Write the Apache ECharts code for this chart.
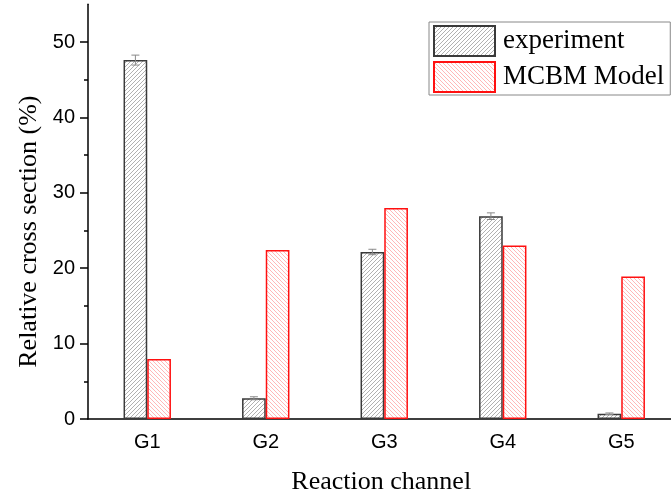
<!DOCTYPE html>
<html>
<head>
<meta charset="utf-8">
<script src="https://cdn.jsdelivr.net/npm/echarts@6/dist/echarts.min.js"></script>
<style>
html,body{margin:0;padding:0;background:#fff;}
#chart{width:671px;height:497px;}
</style>
</head>
<body>
<div id="chart"></div>
<script>
// ---- data ----
var categories = ['G1', 'G2', 'G3', 'G4', 'G5'];
var experiment = [47.6, 2.75, 22.15, 26.9, 0.7];
var experimentErr = [0.66, 0.2, 0.36, 0.44, 0.1];
var mcbm = [7.95, 22.4, 28.0, 23.0, 18.9];
var yMajorTicks = [0, 10, 20, 30, 40, 50];
var yMinorTicks = [5, 15, 25, 35, 45];

function hatch(color, dir) {
  var s = 4;
  var c = document.createElement('canvas');
  c.width = s; c.height = s;
  var ctx = c.getContext('2d');
  ctx.fillStyle = '#fff';
  ctx.fillRect(0, 0, s, s);
  ctx.strokeStyle = color;
  ctx.lineWidth = 0.9;
  ctx.beginPath();
  if (dir === '/') {
    ctx.moveTo(-1, s + 1); ctx.lineTo(s + 1, -1);
    ctx.moveTo(-1, 1); ctx.lineTo(1, -1);
    ctx.moveTo(s - 1, s + 1); ctx.lineTo(s + 1, s - 1);
  } else {
    ctx.moveTo(-1, -1); ctx.lineTo(s + 1, s + 1);
    ctx.moveTo(s - 1, -1); ctx.lineTo(s + 1, 1);
    ctx.moveTo(-1, s - 1); ctx.lineTo(1, s + 1);
  }
  ctx.stroke();
  return { image: c, repeat: 'repeat' };
}

var errData = experiment.map(function (v, i) { return [i, v, experimentErr[i]]; });

var chart = echarts.init(document.getElementById('chart'));
var axisLineStyle = { color: '#000', width: 1.5 };
chart.setOption({
  animation: false,
  backgroundColor: '#fff',
  grid: { left: 88, right: -9.5, top: 4.3, bottom: 78, outerBoundsMode: 'none', containLabel: false },
  legend: {
    orient: 'vertical',
    left: 429, top: 22,
    padding: [3, 6, 2, 4],
    itemGap: 4,
    icon: 'rect',
    itemWidth: 61, itemHeight: 30,
    borderColor: '#888', borderWidth: 1,
    textStyle: { fontFamily: 'Liberation Serif', fontSize: 27, color: '#000', padding: [0, 0, 0, 3] },
    data: ['experiment', 'MCBM Model']
  },
  xAxis: [{
    type: 'category',
    position: 'bottom',
    data: categories,
    name: 'Reaction channel',
    nameLocation: 'middle',
    nameGap: 50,
    nameTextStyle: { fontFamily: 'Liberation Serif', fontSize: 26, color: '#000', padding: [0, 6, 0, 0] },
    axisLine: { lineStyle: axisLineStyle },
    axisTick: { length: 5, lineStyle: { color: '#000', width: 1.5 } },
    axisLabel: { fontFamily: 'Liberation Sans', fontSize: 20, color: '#000', margin: 13 },
    splitLine: { show: false }
  }, {
    type: 'category',
    position: 'bottom',
    data: categories,
    axisLine: { show: false },
    axisTick: { alignWithLabel: true, length: 8, lineStyle: { color: '#000', width: 1.5 } },
    axisLabel: { show: false },
    splitLine: { show: false }
  }],
  yAxis: [{
    type: 'value',
    position: 'left',
    min: 0, max: 55, interval: 10,
    name: 'Relative cross section (%)',
    nameLocation: 'middle',
    nameGap: 46,
    nameTextStyle: { fontFamily: 'Liberation Serif', fontSize: 26, color: '#000', padding: [0, 40, 0, 0] },
    axisLine: { show: true, lineStyle: axisLineStyle },
    axisTick: { show: true, length: 8, customValues: yMajorTicks, lineStyle: { color: '#000', width: 1.5 } },
    axisLabel: { fontFamily: 'Liberation Sans', fontSize: 20, color: '#000', margin: 13, customValues: yMajorTicks },
    splitLine: { show: false }
  }, {
    type: 'value',
    position: 'left',
    min: 0, max: 55, interval: 5,
    axisLine: { show: false },
    axisTick: { show: true, length: 4, customValues: yMinorTicks, lineStyle: { color: '#000', width: 1.5 } },
    axisLabel: { show: false },
    splitLine: { show: false }
  }],
  series: [{
    name: 'experiment',
    type: 'bar',
    data: experiment,
    barWidth: '20%',
    barGap: '0%',
    itemStyle: { color: hatch('#a8a8a8', '/'), borderColor: '#3a3a3a', borderWidth: 1.5 }
  }, {
    name: 'MCBM Model',
    type: 'bar',
    data: mcbm,
    barWidth: '20%',
    barGap: '0%',
    itemStyle: { color: hatch('#ffb0b0', '\\'), borderColor: '#ff1010', borderWidth: 1.5 }
  }, {
    name: 'err',
    type: 'custom',
    data: errData,
    z: 5,
    encode: { x: 0, y: 1 },
    renderItem: function (params, api) {
      var idx = api.value(0), v = api.value(1), e = api.value(2);
      var band = api.size([1, 0])[0];
      var x = api.coord([idx, v])[0] - band * 0.1;
      var yt = api.coord([idx, v + e])[1];
      var yb = api.coord([idx, v - e])[1];
      var hw = 4;
      var st = { stroke: '#8a8a8a', lineWidth: 1 };
      return {
        type: 'group',
        children: [
          { type: 'line', shape: { x1: x, y1: yt, x2: x, y2: yb }, style: st },
          { type: 'line', shape: { x1: x - hw, y1: yt, x2: x + hw, y2: yt }, style: st },
          { type: 'line', shape: { x1: x - hw, y1: yb, x2: x + hw, y2: yb }, style: st }
        ]
      };
    }
  }]
});
</script>
</body>
</html>
